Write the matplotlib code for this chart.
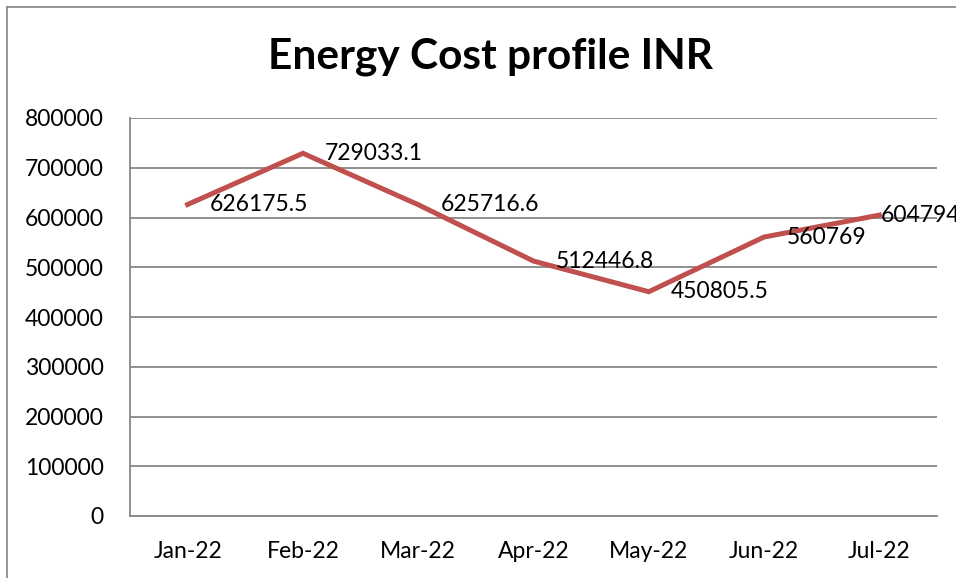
import matplotlib.pyplot as plt
from matplotlib.lines import Line2D

months = ["Jan-22", "Feb-22", "Mar-22", "Apr-22", "May-22", "Jun-22", "Jul-22"]
cost = [626175.5, 729033.1, 625716.6, 512446.8, 450805.5, 560769, 604794]
cost_labels = ["626175.5", "729033.1", "625716.6", "512446.8", "450805.5", "560769", "604794"]
yticks = [0, 100000, 200000, 300000, 400000, 500000, 600000, 700000, 800000]

plt.rcParams["font.family"] = ["Lato", "DejaVu Sans"]

fig = plt.figure(figsize=(9.56, 5.78), dpi=100)
ax = fig.add_axes([130/956, 1-516/578, (937-130)/956, (516-118)/578])

x = list(range(len(months)))
ax.plot(x, cost, color="#C0504D", lw=3.6, solid_joinstyle="miter", zorder=3)

# data labels to the right of each point; the last one sits on its point (Excel nudges it)
offsets = [16, 16, 16, 16, 16, 16, 1]
for xi, v, lab, dx in zip(x, cost, cost_labels, offsets):
    ax.annotate(lab, (xi, v), xytext=(dx, 0), textcoords="offset points",
                ha="left", va="center", fontsize=16.5, color="black",
                annotation_clip=False, zorder=4)

ax.set_xlim(-0.5, len(months) - 0.5)
ax.set_ylim(0, 800000)
ax.set_xticks(x)
ax.set_xticklabels(months)
ax.set_yticks(yticks)
ax.set_yticklabels([str(t) for t in yticks])
ax.tick_params(axis="both", length=0, labelsize=16.5)
ax.tick_params(axis="y", pad=19)
ax.tick_params(axis="x", pad=18)
ax.grid(axis="y", color="#878787", lw=1.3)
ax.set_axisbelow(True)
for s in ["top", "right"]:
    ax.spines[s].set_visible(False)
for s in ["left", "bottom"]:
    ax.spines[s].set_color("#878787")
    ax.spines[s].set_linewidth(1.3)

fig.text(490/956, 1-69/578, "Energy Cost profile INR", ha="center", va="baseline",
         fontsize=30.5, fontweight="bold")

# chart frame
fig.add_artist(Line2D([7/956, 7/956], [0, 1-7/578], color="#8c8c8c", lw=1.3))
fig.add_artist(Line2D([7/956, 1], [1-7/578, 1-7/578], color="#8c8c8c", lw=1.3))

fig.savefig("out.png", dpi=100)
